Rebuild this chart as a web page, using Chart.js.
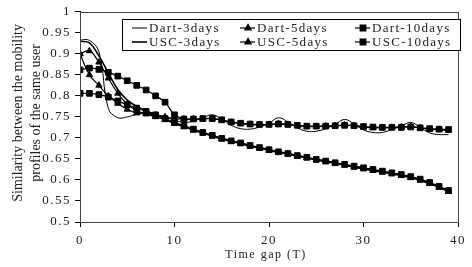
<!DOCTYPE html>
<html>
<head>
<meta charset="utf-8">
<script src="https://cdn.jsdelivr.net/npm/chart.js@4.4.0/dist/chart.umd.min.js"></script>
<style>
    html, body { margin: 0; padding: 0; background: #fff; }
    canvas { display: block; }
</style>
</head>
<body>
<canvas id="chart" width="472" height="267"></canvas>
<script>
// Data
const timeGaps = [0, 1, 2, 3, 4, 5, 6, 7, 8, 9, 10, 11, 12, 13, 14, 15, 16, 17, 18, 19,
    20, 21, 22, 23, 24, 25, 26, 27, 28, 29, 30, 31, 32, 33, 34, 35, 36, 37, 38, 39];

const dart3 = [0.933, 0.932, 0.905, 0.770, 0.748, 0.750, 0.756, 0.760, 0.756, 0.750,
    0.742, 0.737, 0.740, 0.748, 0.755, 0.745, 0.730, 0.722, 0.721, 0.726,
    0.735, 0.748, 0.738, 0.724, 0.716, 0.716, 0.722, 0.732, 0.744, 0.733,
    0.719, 0.713, 0.713, 0.720, 0.728, 0.737, 0.725, 0.712, 0.708, 0.708];
const dart5 = [0.900, 0.850, 0.825, 0.800, 0.782, 0.768, 0.759, 0.757, 0.754, 0.750,
    0.746, 0.745, 0.745, 0.745, 0.746, 0.742, 0.737, 0.734, 0.732, 0.731,
    0.732, 0.734, 0.732, 0.729, 0.727, 0.727, 0.728, 0.729, 0.731, 0.729,
    0.726, 0.724, 0.724, 0.725, 0.726, 0.727, 0.724, 0.721, 0.719, 0.718];
const dart10 = [0.862, 0.866, 0.863, 0.856, 0.847, 0.836, 0.825, 0.814, 0.800, 0.785,
    0.755, 0.745, 0.745, 0.746, 0.746, 0.743, 0.738, 0.735, 0.733, 0.732,
    0.732, 0.733, 0.732, 0.730, 0.728, 0.728, 0.728, 0.729, 0.730, 0.729,
    0.727, 0.726, 0.725, 0.725, 0.725, 0.726, 0.724, 0.722, 0.721, 0.720];
const usc3 = [0.930, 0.926, 0.895, 0.855, 0.815, 0.790, 0.775, 0.765, 0.755, 0.745,
    0.735, 0.728, 0.720, 0.713, 0.706, 0.699, 0.693, 0.688, 0.682, 0.677,
    0.672, 0.667, 0.663, 0.658, 0.653, 0.649, 0.645, 0.641, 0.636, 0.632,
    0.628, 0.624, 0.620, 0.616, 0.612, 0.606, 0.600, 0.592, 0.583, 0.574];
const usc5 = [0.900, 0.907, 0.880, 0.842, 0.806, 0.780, 0.765, 0.757, 0.750, 0.743,
    0.734, 0.726, 0.718, 0.711, 0.704, 0.697, 0.691, 0.686, 0.680, 0.675,
    0.670, 0.665, 0.661, 0.656, 0.652, 0.647, 0.643, 0.639, 0.635, 0.630,
    0.626, 0.622, 0.618, 0.614, 0.610, 0.605, 0.599, 0.591, 0.582, 0.572];
const usc10 = [0.806, 0.806, 0.803, 0.797, 0.788, 0.779, 0.771, 0.763, 0.755, 0.746,
    0.737, 0.729, 0.721, 0.713, 0.706, 0.699, 0.693, 0.688, 0.682, 0.677,
    0.672, 0.667, 0.663, 0.658, 0.654, 0.649, 0.645, 0.641, 0.637, 0.633,
    0.629, 0.625, 0.621, 0.617, 0.613, 0.608, 0.602, 0.594, 0.585, 0.575];

const seriesLabels = ['Dart-3days', 'Dart-5days', 'Dart-10days', 'USC-3days', 'USC-5days', 'USC-10days'];
const seriesValues = [dart3, dart5, dart10, usc3, usc5, usc10];

const xTitle = 'Time gap (T)';
const yTitle = ['Similarity between the mobility', 'profiles of the same user'];

const SERIF = '"Liberation Serif", "Times New Roman", serif';
const TEXT = '#222';
const markerStyles = [
    { pointStyle: false, radius: 0, width: 1 },
    { pointStyle: 'triangle', radius: 3.6, width: 1.2 },
    { pointStyle: 'rect', radius: 4, width: 1.2 },
    { pointStyle: false, radius: 0, width: 1.6 },
    { pointStyle: 'triangle', radius: 3.6, width: 1.2 },
    { pointStyle: 'rect', radius: 4, width: 1.2 }
];

// spaced-out glyphs like the original figure
const spacing = {
    id: 'spacing',
    beforeUpdate(chart) { chart.ctx.letterSpacing = '1.5px'; },
    beforeDraw(chart) { chart.ctx.letterSpacing = '1.5px'; }
};

// plot frame, axis titles and the boxed legend
const decorations = {
    id: 'decorations',
    afterDraw(chart) {
        const ctx = chart.ctx;
        const a = chart.chartArea;
        ctx.save();
        ctx.strokeStyle = '#444';
        ctx.lineWidth = 1;
        ctx.strokeRect(Math.round(a.left) + 0.5, Math.round(a.top) + 0.5,
            Math.round(a.right - a.left), Math.round(a.bottom - a.top));

        // x title
        ctx.fillStyle = TEXT;
        ctx.letterSpacing = '1.5px';
        ctx.font = '12px ' + SERIF;
        ctx.textAlign = 'center';
        ctx.textBaseline = 'middle';
        ctx.fillText(xTitle, (a.left + a.right) / 2 - 3, 255);

        // y title, two rotated lines
        ctx.letterSpacing = '0px';
        ctx.font = '14px ' + SERIF;
        ctx.textBaseline = 'alphabetic';
        const midY = (a.top + a.bottom) / 2 - 4;
        [22, 40].forEach((bx, i) => {
            ctx.save();
            ctx.translate(bx, midY);
            ctx.rotate(-Math.PI / 2);
            ctx.fillText(yTitle[i], 0, 0);
            ctx.restore();
        });

        // legend
        ctx.strokeStyle = '#000';
        ctx.fillStyle = '#fff';
        ctx.fillRect(122.5, 19.5, 338, 31);
        ctx.strokeRect(122.5, 19.5, 338, 31);
        const sampleX = [132, 240, 355];
        const rowY = [28, 42];
        ctx.font = '13px ' + SERIF;
        ctx.letterSpacing = '1.3px';
        ctx.textAlign = 'left';
        ctx.textBaseline = 'middle';
        chart.data.datasets.forEach((ds, i) => {
            const x = sampleX[i % 3];
            const y = rowY[Math.floor(i / 3)];
            const m = markerStyles[i];
            ctx.strokeStyle = '#000';
            ctx.fillStyle = '#000';
            ctx.lineWidth = m.width;
            ctx.beginPath();
            ctx.moveTo(x, y);
            ctx.lineTo(x + 15, y);
            ctx.stroke();
            if (m.pointStyle) {
                Chart.helpers.drawPoint(ctx, {
                    pointStyle: m.pointStyle, radius: m.radius, rotation: 0, borderWidth: 1
                }, x + 8, y);
            }
            ctx.fillStyle = TEXT;
            ctx.fillText(ds.label, x + 17, y + 1);
        });
        ctx.restore();
    }
};

const datasets = seriesLabels.map((label, i) => ({
    label: label,
    data: seriesValues[i],
    borderColor: '#000',
    backgroundColor: '#000',
    borderWidth: markerStyles[i].width,
    pointStyle: markerStyles[i].pointStyle || 'circle',
    pointRadius: markerStyles[i].radius,
    pointBorderWidth: 1,
    tension: 0.4,
    fill: false
}));

new Chart(document.getElementById('chart'), {
    type: 'line',
    data: { labels: timeGaps, datasets: datasets },
    options: {
        responsive: false,
        animation: false,
        devicePixelRatio: 1,
        layout: { padding: { top: 3, right: 6, left: 0, bottom: 0 } },
        plugins: {
            legend: { display: false },
            tooltip: { enabled: false }
        },
        scales: {
            x: {
                type: 'linear',
                min: 0,
                max: 40,
                afterFit(scale) { scale.height = 45; },
                grid: { drawOnChartArea: false, drawTicks: true, tickLength: 5, color: '#000' },
                border: { display: true, color: '#000', width: 1 },
                ticks: {
                    stepSize: 10,
                    maxRotation: 0,
                    padding: 6,
                    color: TEXT,
                    font: { family: SERIF, size: 13 }
                }
            },
            y: {
                min: 0.5,
                max: 1,
                afterFit(scale) { scale.width = 80; },
                grid: { drawOnChartArea: false, drawTicks: true, tickLength: 5, color: '#000' },
                border: { display: true, color: '#000', width: 1 },
                ticks: {
                    stepSize: 0.05,
                    padding: 4,
                    color: TEXT,
                    font: { family: SERIF, size: 13 },
                    callback: v => String(Number(v.toFixed(2)))
                }
            }
        }
    },
    plugins: [spacing, decorations]
});
</script>
</body>
</html>
